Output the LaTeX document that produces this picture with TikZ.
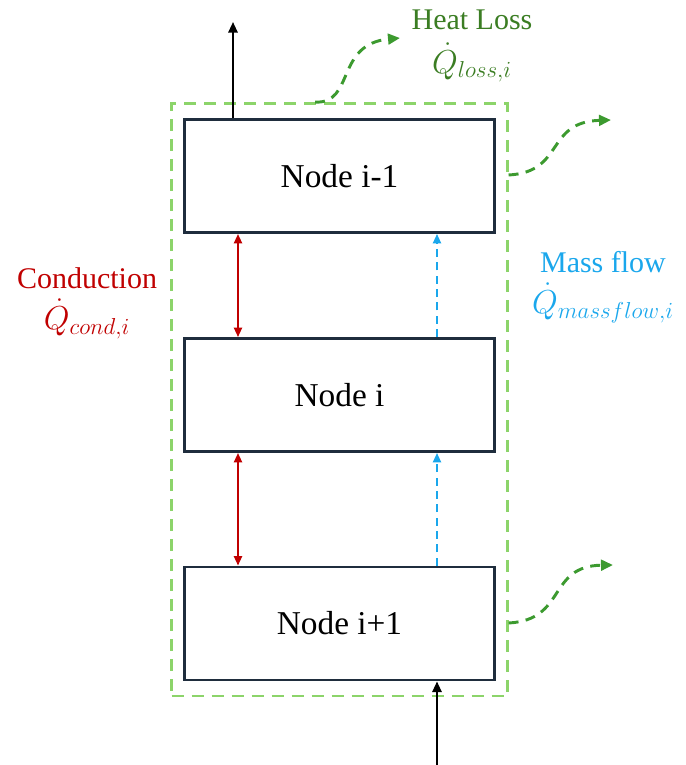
\documentclass[tikz,border=0pt]{standalone}
\usepackage{amsmath}
\usepackage{fontspec}
\setmainfont{Liberation Serif}
\usetikzlibrary{arrows.meta,positioning,fit}

\definecolor{boxline}{HTML}{1F2D3D}
\definecolor{cvgreen}{HTML}{8CD46A}
\definecolor{lossgreen}{HTML}{3C9A2F}
\definecolor{losstext}{HTML}{3B7D23}
\definecolor{condred}{HTML}{C00000}
\definecolor{flowblue}{HTML}{1AA7EC}

\begin{document}
\begin{tikzpicture}[
    x=0.75pt, y=-0.75pt,
    tank/.style={rectangle, draw=boxline, line width=2.2pt, fill=white, minimum width=232.5pt, minimum height=84.75pt, inner sep=0pt, font=\fontsize{25}{30}\selectfont},
    boundary/.style={draw=cvgreen, line width=1.9pt, dash pattern=on 9pt off 6pt, inner sep=0pt},
    label/.style={anchor=base, inner sep=1pt, font=\fontsize{22.5}{27}\selectfont},
    qlabel/.style={anchor=base, inner sep=1pt, font=\fontsize{24}{29}\selectfont},
    flow/.style={-{Triangle[length=8pt, width=7pt]}, line width=1.5pt, black},
    cond/.style={{Triangle[length=7pt, width=6pt]}-{Triangle[length=7pt, width=6pt]}, line width=1.5pt, draw=condred},
    mass/.style={-{Triangle[length=7pt, width=6pt]}, line width=1.4pt, draw=flowblue, dash pattern=on 6pt off 4pt},
    loss/.style={-{Triangle[length=9pt, width=8pt]}, line width=2.2pt, draw=lossgreen, dash pattern=on 7.5pt off 5.5pt}
]
    \useasboundingbox (0,0) rectangle (686,765);

    % stacked nodes
    \node [tank] (nim1) at (339.5,176) {Node i-1};
    \node [tank] (ni) at (339.5,395) {Node i};
    \node [tank] (nip1) at (339.5,623.5) {Node i+1};

    % control volume
    \node [boundary, fit=(nim1)(nip1), inner xsep=8.5pt, inner ysep=11pt] (cv) {};

    % labels
    \node [label, text=losstext] (losslbl) at (472,29) {Heat Loss};
    \node [qlabel, text=losstext, below=33pt of losslbl.base, anchor=base] (lossq) {$\dot{Q}_{loss,i}$};
    \node [label, text=condred] (condlbl) at (87,288) {Conduction};
    \node [qlabel, text=condred, below=31pt of condlbl.base, anchor=base] (condq) {$\dot{Q}_{cond,i}$};
    \node [label, text=flowblue] (flowlbl) at (603,272) {Mass flow};
    \node [qlabel, text=flowblue, below=31pt of flowlbl.base, anchor=base] (flowq) {$\dot{Q}_{massflow,i}$};

    % helper coordinates
    \coordinate (cx) at (238,0);
    \coordinate (mx) at (437,0);
    \coordinate (outlet) at (233,22);
    \coordinate (inlet) at (437,765);
    \coordinate (loss1) at (400,38);
    \coordinate (loss2) at (611,120);
    \coordinate (loss3) at (613,565);

    % in and out
    \draw [flow] (nim1.north -| outlet) -- (outlet);
    \draw [flow] (inlet) -- (nip1.south -| inlet);

    % conduction
    \draw [cond] (nim1.south -| cx) -- (ni.north -| cx);
    \draw [cond] (ni.south -| cx) -- (nip1.north -| cx);

    % mass flow
    \draw [mass] (ni.north -| mx) -- (nim1.south -| mx);
    \draw [mass] (nip1.north -| mx) -- (ni.south -| mx);

    % heat loss
    \draw [loss] (cv.north -| 315,0) .. controls (355,104) and (335,44) .. (loss1);
    \draw [loss] (cv.east |- 0,175) .. controls (565,172) and (545,122) .. (loss2);
    \draw [loss] (cv.east |- 0,623) .. controls (567,620) and (547,566) .. (loss3);
\end{tikzpicture}
\end{document}
